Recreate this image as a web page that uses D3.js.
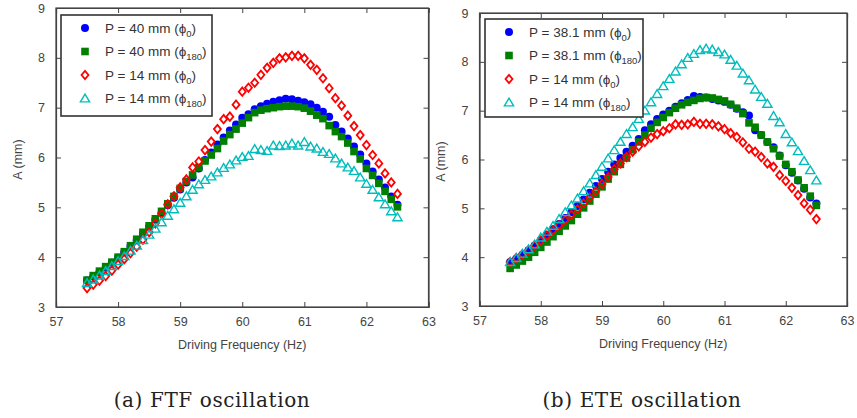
<!DOCTYPE html>
<html><head><meta charset="utf-8">
<script src="https://cdn.jsdelivr.net/npm/d3@7"></script>
<style>
html,body{margin:0;padding:0;background:#fff;}
svg{display:block;}
</style></head>
<body>
<svg id="chart" width="857" height="418"></svg>
<script>
const freq = [57.5,57.6,57.7,57.8,57.9,58.0,58.1,58.2,58.3,58.4,58.5,58.6,58.7,58.8,58.9,59.0,59.1,59.2,59.3,59.4,59.5,59.6,59.7,59.8,59.9,60.0,60.1,60.2,60.3,60.4,60.5,60.6,60.7,60.8,60.9,61.0,61.1,61.2,61.3,61.4,61.5,61.6,61.7,61.8,61.9,62.0,62.1,62.2,62.3,62.4,62.5];

// (a) FTF oscillation
const ftfP40phi0 = [3.53,3.61,3.70,3.79,3.89,3.99,4.10,4.22,4.34,4.47,4.61,4.75,4.89,5.04,5.19,5.36,5.50,5.60,5.78,5.95,6.10,6.26,6.40,6.54,6.66,6.80,6.87,6.97,7.03,7.08,7.12,7.15,7.18,7.17,7.14,7.11,7.07,7.00,6.92,6.82,6.65,6.52,6.38,6.22,6.06,5.88,5.72,5.56,5.40,5.22,5.05];
const ftfP40phi180 = [3.54,3.63,3.72,3.81,3.90,4.00,4.11,4.23,4.36,4.50,4.63,4.77,4.92,5.07,5.22,5.38,5.52,5.65,5.80,5.93,6.05,6.18,6.33,6.46,6.57,6.69,6.80,6.90,6.95,6.98,7.00,7.02,7.03,7.03,7.02,6.99,6.93,6.85,6.78,6.64,6.52,6.42,6.29,6.12,5.97,5.78,5.64,5.48,5.32,5.16,5.01];
const ftfP14phi0 = [3.38,3.45,3.53,3.62,3.73,3.85,3.96,4.08,4.21,4.35,4.50,4.68,4.87,5.06,5.22,5.40,5.56,5.80,5.92,6.15,6.32,6.57,6.77,6.82,7.06,7.32,7.40,7.50,7.66,7.80,7.90,7.99,8.01,8.04,8.04,7.99,7.86,7.76,7.59,7.39,7.19,7.04,6.84,6.63,6.45,6.25,6.05,5.88,5.68,5.50,5.27];
const ftfP14phi180 = [3.48,3.55,3.63,3.72,3.82,3.92,4.02,4.13,4.23,4.34,4.45,4.57,4.70,4.83,4.96,5.09,5.22,5.35,5.46,5.55,5.62,5.70,5.79,5.86,5.94,6.01,6.03,6.17,6.15,6.13,6.24,6.23,6.24,6.28,6.24,6.31,6.22,6.18,6.11,6.07,5.98,5.88,5.80,5.73,5.60,5.47,5.35,5.20,5.06,4.92,4.80];

// (b) ETE oscillation
const eteP38phi0 = [3.90,3.97,4.05,4.14,4.24,4.35,4.46,4.57,4.68,4.80,4.92,5.05,5.18,5.32,5.46,5.60,5.75,5.90,6.03,6.16,6.28,6.42,6.60,6.72,6.83,6.92,7.00,7.08,7.15,7.22,7.30,7.28,7.27,7.24,7.21,7.18,7.12,7.04,6.97,6.90,6.60,6.50,6.36,6.25,6.08,5.88,5.73,5.57,5.40,5.22,5.10];
const eteP38phi180 = [3.77,3.84,3.92,4.00,4.10,4.20,4.31,4.42,4.53,4.64,4.75,4.88,5.01,5.15,5.29,5.44,5.60,5.75,5.90,6.03,6.20,6.36,6.50,6.64,6.76,6.86,6.96,7.05,7.12,7.17,7.21,7.25,7.27,7.26,7.23,7.20,7.13,7.05,6.94,6.75,6.66,6.50,6.36,6.22,6.07,5.90,5.75,5.58,5.42,5.25,5.06];
const eteP14phi0 = [3.90,3.98,4.06,4.14,4.24,4.34,4.44,4.55,4.65,4.76,4.87,4.98,5.10,5.22,5.35,5.50,5.64,5.80,5.92,6.05,6.16,6.27,6.36,6.45,6.52,6.58,6.64,6.72,6.71,6.72,6.77,6.73,6.73,6.72,6.68,6.62,6.54,6.46,6.35,6.22,6.16,6.05,5.92,5.85,5.68,5.56,5.42,5.27,5.10,4.97,4.78];
const eteP14phi180 = [3.90,3.98,4.07,4.16,4.26,4.40,4.52,4.64,4.78,4.92,5.06,5.20,5.35,5.51,5.68,5.85,6.02,6.19,6.36,6.52,6.66,6.83,7.00,7.17,7.34,7.50,7.65,7.80,7.95,8.08,8.16,8.24,8.27,8.25,8.20,8.15,8.04,7.92,7.76,7.62,7.43,7.28,7.14,6.89,6.76,6.52,6.35,6.17,5.97,5.78,5.57];

const xTicks = [57,58,59,60,61,62,63];
const yTicks = [3,4,5,6,7,8,9];
const ftfLabels = ["P = 40 mm", "P = 40 mm", "P = 14 mm", "P = 14 mm"];
const eteLabels = ["P = 38.1 mm", "P = 38.1 mm", "P = 14 mm", "P = 14 mm"];
const phaseSubs = ["0", "180", "0", "180"];
const captions = ["(a) FTF oscillation", "(b) ETE oscillation"];
const xTitle = "Driving Frequency (Hz)";
const yTitle = "A (mm)";

const markerStyles = [
  {kind:"circle", color:"#0000ff"},
  {kind:"square", color:"#007f00"},
  {kind:"diamond", color:"#ff0000"},
  {kind:"triangle", color:"#00bdbd"}
];

const SANS = "'Liberation Sans', Arial, Helvetica, sans-serif";
const SERIF = "'DejaVu Serif', 'Liberation Serif', serif";

function markerPath(kind){
  if(kind==="circle") return d3.symbol(d3.symbolCircle, 50)();
  if(kind==="square") return "M-3.8,-3.8H3.8V3.8H-3.8Z";
  if(kind==="diamond") return "M0,-4.2L3.5,0L0,4.2L-3.5,0Z";
  return "M0,-4.4L4.6,3.4L-4.6,3.4Z";
}
function styleMarker(sel, st){
  if(st.kind==="circle"||st.kind==="square"){
    sel.attr("fill", st.color).attr("stroke","none");
  } else {
    sel.attr("fill","none").attr("stroke", st.color).attr("stroke-width", st.kind==="diamond"?1.8:1.4);
  }
}

const svg = d3.select("#chart");

function panel(cfg){
  const g = svg.append("g");
  const x = d3.scaleLinear().domain([57,63]).range([cfg.left, cfg.right]);
  const y = d3.scaleLinear().domain([3,9]).range([cfg.bottom, cfg.top]);
  const axisColor = "#444";
  const tickLen = 5;

  const ax = [
    g.append("g").attr("transform",`translate(0,${cfg.bottom})`).call(d3.axisBottom(x).tickValues(xTicks).tickSize(-tickLen).tickPadding(10).tickFormat(d3.format("d"))),
    g.append("g").attr("transform",`translate(0,${cfg.top})`).call(d3.axisTop(x).tickValues(xTicks).tickSize(-tickLen).tickFormat("")),
    g.append("g").attr("transform",`translate(${cfg.left},0)`).call(d3.axisLeft(y).tickValues(yTicks).tickSize(-tickLen).tickPadding(11).tickFormat(d3.format("d"))),
    g.append("g").attr("transform",`translate(${cfg.right},0)`).call(d3.axisRight(y).tickValues(yTicks).tickSize(-tickLen).tickFormat(""))
  ];
  ax.forEach(a=>{
    a.select(".domain").attr("stroke", axisColor).attr("stroke-width",1.2);
    a.selectAll(".tick line").attr("stroke", axisColor);
    a.selectAll(".tick text").attr("fill","#444").attr("font-size",12.5).style("font-family",SANS);
  });
  g.append("rect").attr("x",cfg.left).attr("y",cfg.top).attr("width",cfg.right-cfg.left).attr("height",cfg.bottom-cfg.top)
    .attr("fill","none").attr("stroke",axisColor).attr("stroke-width",1.2);

  cfg.series.forEach((vals,i)=>{
    const st = markerStyles[i];
    const p = markerPath(st.kind);
    const s = g.append("g").selectAll("path").data(freq.map((f,j)=>({f, v:vals[j]}))).join("path")
      .attr("d", p).attr("transform", d=>`translate(${x(d.f)},${y(d.v)})`);
    styleMarker(s, st);
  });

  const L = cfg.legend;
  const lg = g.append("g");
  lg.append("rect").attr("x",L.x).attr("y",L.y).attr("width",L.w).attr("height",L.h)
    .attr("fill","#fff").attr("stroke","#333").attr("stroke-width",1.6);
  cfg.labels.forEach((lab,i)=>{
    const yy = L.y + 13 + i*23.5;
    const m = lg.append("path").attr("d", markerPath(markerStyles[i].kind)).attr("transform",`translate(${L.x+24},${yy})`);
    styleMarker(m, markerStyles[i]);
    const t = lg.append("text").attr("x", L.x+44).attr("y", yy+4.5).attr("font-size",13.5).attr("fill","#333").style("font-family",SANS);
    t.append("tspan").text(lab + " (\u03D5");
    t.append("tspan").attr("font-size",9.5).attr("dy",4).text(phaseSubs[i]);
    t.append("tspan").attr("dy",-4).text(")");
  });

  g.append("text").attr("x",(cfg.left+cfg.right)/2).attr("y",cfg.bottom+42).attr("text-anchor","middle")
    .attr("font-size",12.5).attr("fill","#444").style("font-family",SANS).text(xTitle);
  g.append("text").attr("transform",`translate(${cfg.yTitleX},${(cfg.top+cfg.bottom)/2+2}) rotate(-90)`).attr("text-anchor","middle")
    .attr("font-size",12.5).attr("fill","#444").style("font-family",SANS).text(yTitle);
  g.append("text").attr("x",cfg.capX).attr("y",407).attr("text-anchor","middle")
    .style("font-family",SERIF).attr("font-size",20).style("letter-spacing","0.6px").attr("fill","#222").text(cfg.caption);
}

panel({left:56, right:428.5, top:8, bottom:307, series:[ftfP40phi0, ftfP40phi180, ftfP14phi0, ftfP14phi180],
  legend:{x:61, y:15, w:151, h:101}, labels:ftfLabels, yTitleX:22, caption:captions[0], capX:212});
panel({left:479.5, right:847, top:13, bottom:306, series:[eteP38phi0, eteP38phi180, eteP14phi0, eteP14phi180],
  legend:{x:485, y:19, w:158, h:98}, labels:eteLabels, yTitleX:445, caption:captions[1], capX:642});
</script>
</body></html>
